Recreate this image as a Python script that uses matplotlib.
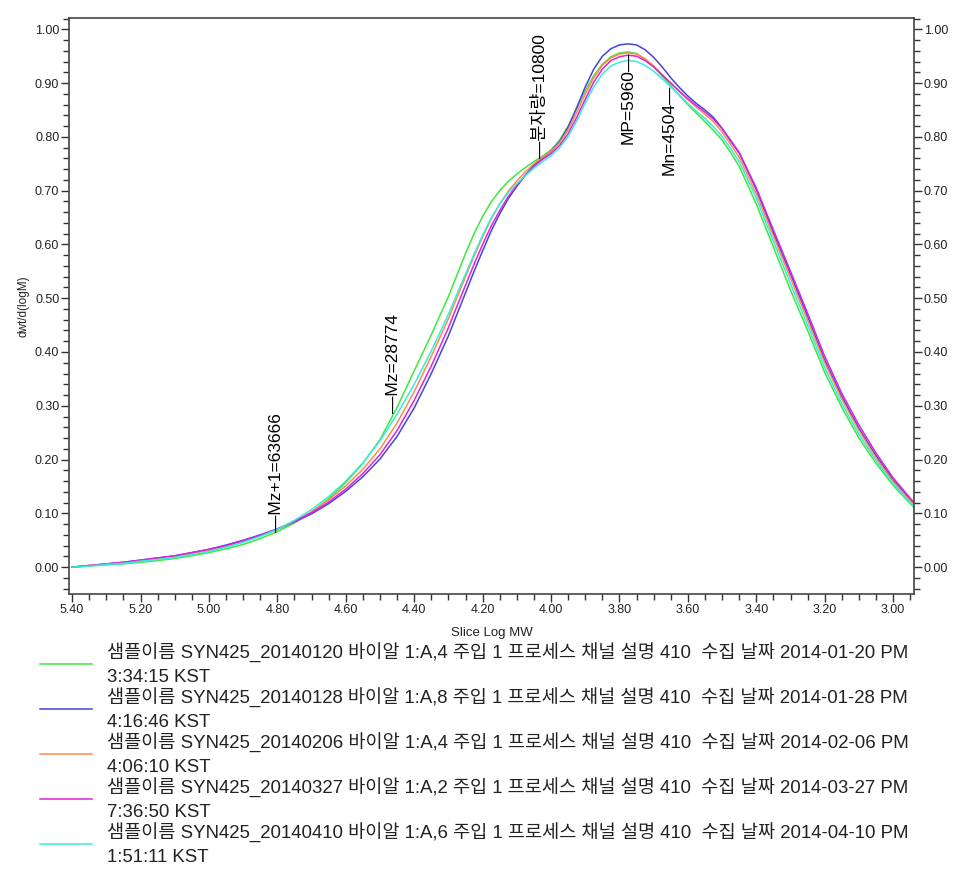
import numpy as np
import matplotlib
matplotlib.use("Agg")
import matplotlib.pyplot as plt
from matplotlib.ticker import MultipleLocator, FormatStrFormatter
from matplotlib.font_manager import FontProperties

plt.rcParams['font.family'] = ['Liberation Sans', 'Noto Sans CJK KR', 'DejaVu Sans']

# slice log MW (x axis, reversed); finer steps around the main peak
log_mw = [5.40, 5.35, 5.30, 5.25, 5.20, 5.15, 5.10, 5.05, 5.00, 4.95,
          4.90, 4.85, 4.80, 4.75, 4.70, 4.65, 4.60, 4.55, 4.50, 4.45,
          4.40, 4.35,
          4.300, 4.275, 4.250, 4.225, 4.200, 4.175, 4.150, 4.125, 4.100, 4.075,
          4.050, 4.025, 4.000, 3.975, 3.950, 3.925, 3.900, 3.875, 3.850, 3.825,
          3.800, 3.775, 3.750, 3.725, 3.700, 3.675, 3.650, 3.625, 3.600, 3.575,
          3.550, 3.525, 3.500, 3.475, 3.450,
          3.40, 3.35, 3.30, 3.25, 3.20, 3.15, 3.10, 3.05, 3.00, 2.95, 2.94]

# dwt/d(logM) per sample
s0120 = [0.000, 0.002, 0.004, 0.006, 0.009, 0.012, 0.016, 0.021, 0.027, 0.034,
         0.042, 0.053, 0.066, 0.082, 0.102, 0.127, 0.157, 0.193, 0.237, 0.297,
         0.365, 0.432,
         0.503, 0.543, 0.583, 0.620, 0.652, 0.679, 0.700, 0.717, 0.731, 0.743,
         0.754, 0.764, 0.776, 0.794, 0.820, 0.853, 0.886, 0.914, 0.935, 0.949,
         0.956, 0.958, 0.955, 0.945, 0.930, 0.913, 0.895, 0.877, 0.860, 0.844,
         0.828, 0.812, 0.794, 0.771, 0.745,
         0.675, 0.595, 0.515, 0.440, 0.362, 0.297, 0.240, 0.193, 0.152, 0.118, 0.112]
s0128 = [0.000, 0.003, 0.006, 0.009, 0.013, 0.017, 0.021, 0.027, 0.033, 0.041,
         0.050, 0.060, 0.071, 0.084, 0.099, 0.118, 0.141, 0.168, 0.201, 0.243,
         0.296, 0.360,
         0.430, 0.470, 0.510, 0.550, 0.588, 0.625, 0.657, 0.685, 0.708, 0.729,
         0.747, 0.761, 0.773, 0.791, 0.818, 0.854, 0.893, 0.926, 0.950, 0.964,
         0.971, 0.973, 0.971, 0.962, 0.948, 0.930, 0.910, 0.892, 0.876, 0.862,
         0.850, 0.836, 0.816, 0.792, 0.770,
         0.702, 0.622, 0.545, 0.466, 0.385, 0.317, 0.258, 0.207, 0.162, 0.126, 0.119]
s0206 = [0.000, 0.003, 0.005, 0.008, 0.012, 0.016, 0.020, 0.025, 0.031, 0.039,
         0.048, 0.058, 0.070, 0.085, 0.103, 0.125, 0.151, 0.182, 0.220, 0.268,
         0.326, 0.392,
         0.462, 0.501, 0.540, 0.578, 0.614, 0.647, 0.675, 0.699, 0.718, 0.735,
         0.750, 0.762, 0.773, 0.789, 0.813, 0.845, 0.880, 0.910, 0.933, 0.947,
         0.954, 0.956, 0.954, 0.945, 0.932, 0.916, 0.900, 0.884, 0.869, 0.855,
         0.842, 0.828, 0.809, 0.786, 0.762,
         0.694, 0.615, 0.537, 0.459, 0.380, 0.312, 0.254, 0.203, 0.159, 0.123, 0.117]
s0327 = [0.000, 0.003, 0.006, 0.009, 0.013, 0.017, 0.021, 0.027, 0.033, 0.040,
         0.049, 0.059, 0.071, 0.085, 0.101, 0.121, 0.145, 0.174, 0.209, 0.254,
         0.310, 0.374,
         0.445, 0.485, 0.524, 0.563, 0.600, 0.634, 0.663, 0.689, 0.710, 0.729,
         0.745, 0.758, 0.769, 0.784, 0.806, 0.836, 0.870, 0.902, 0.926, 0.942,
         0.949, 0.952, 0.950, 0.942, 0.930, 0.915, 0.900, 0.885, 0.871, 0.858,
         0.846, 0.833, 0.815, 0.794, 0.771,
         0.705, 0.627, 0.550, 0.472, 0.392, 0.323, 0.264, 0.212, 0.166, 0.128, 0.121]
s0410 = [0.000, 0.002, 0.005, 0.007, 0.011, 0.014, 0.018, 0.023, 0.029, 0.037,
         0.046, 0.057, 0.070, 0.087, 0.107, 0.131, 0.160, 0.194, 0.235, 0.284,
         0.340, 0.402,
         0.470, 0.508, 0.545, 0.582, 0.617, 0.649, 0.675, 0.696, 0.713, 0.728,
         0.742, 0.754, 0.765, 0.780, 0.801, 0.830, 0.863, 0.893, 0.917, 0.932,
         0.939, 0.942, 0.940, 0.933, 0.922, 0.908, 0.893, 0.878, 0.862, 0.848,
         0.834, 0.819, 0.801, 0.778, 0.754,
         0.686, 0.606, 0.527, 0.450, 0.371, 0.304, 0.247, 0.198, 0.155, 0.120, 0.114]

labels = [
    "샘플이름 SYN425_20140120 바이알 1:A,4 주입 1 프로세스 채널 설명 410  수집 날짜 2014-01-20 PM\n3:34:15 KST",
    "샘플이름 SYN425_20140128 바이알 1:A,8 주입 1 프로세스 채널 설명 410  수집 날짜 2014-01-28 PM\n4:16:46 KST",
    "샘플이름 SYN425_20140206 바이알 1:A,4 주입 1 프로세스 채널 설명 410  수집 날짜 2014-02-06 PM\n4:06:10 KST",
    "샘플이름 SYN425_20140327 바이알 1:A,2 주입 1 프로세스 채널 설명 410  수집 날짜 2014-03-27 PM\n7:36:50 KST",
    "샘플이름 SYN425_20140410 바이알 1:A,6 주입 1 프로세스 채널 설명 410  수집 날짜 2014-04-10 PM\n1:51:11 KST",
]
colors = ['#3ee83e', '#4444dd', '#ff8a4a', '#dd22dd', '#33eedd']

# peak markers (name, value, label above curve?)
markers = [("Mz+1", 63666, True), ("Mz", 28774, True), ("분자량", 10800, True),
           ("MP", 5960, False), ("Mn", 4504, False)]

fig = plt.figure(figsize=(9.75, 8.74), dpi=100)
ax = fig.add_axes([69/975, 1-594/874, (914-69)/975, (594-17.5)/874])

series = [s0120, s0128, s0206, s0327, s0410]
handles = []
for ys, c in zip(series, colors):
    h, = ax.plot(log_mw, ys, color=c, lw=1.1)
    handles.append(h)

ax.set_xlim(5.409, 2.939)
ax.set_ylim(-0.050, 1.022)

ax.xaxis.set_major_locator(MultipleLocator(0.2))
ax.xaxis.set_minor_locator(MultipleLocator(0.05))
ax.yaxis.set_major_locator(MultipleLocator(0.1))
ax.yaxis.set_minor_locator(MultipleLocator(0.02))
ax.xaxis.set_major_formatter(FormatStrFormatter('%.2f'))
ax.yaxis.set_major_formatter(FormatStrFormatter('%.2f'))

ax.tick_params(which='both', direction='out', right=True, labelright=True,
               top=False, color='#333333', labelcolor='#222222', labelsize=9, pad=1)
ax.tick_params(which='major', length=6, width=1)
ax.tick_params(which='minor', length=4.5, width=1)
for sp in ax.spines.values():
    sp.set_color('#444444')
    sp.set_linewidth(1.2)

ax.set_xlabel("Slice Log MW", fontsize=9.5, color='#222222', labelpad=8)
ax.set_ylabel("dwt/d(logM)", fontsize=8.5, color='#222222', labelpad=4)

# marker labels on the first sample curve
x_asc = log_mw[::-1]
y_asc = s0120[::-1]
for name, val, above in markers:
    xm = np.log10(val)
    ym = np.interp(xm, x_asc, y_asc)
    if above:
        ax.text(xm, ym, "—" + name + "=" + str(val), rotation=90, ha='center',
                va='bottom', fontsize=12.5, color='black')
    else:
        ax.text(xm, ym, name + "=" + str(val) + "—", rotation=90, ha='center',
                va='top', fontsize=12.5, color='black')

fs = 13.4
em = fs * 100 / 72
leg = fig.legend(handles, labels, loc='upper left', bbox_to_anchor=(40/975, 1-643/874),
                 frameon=False, prop=FontProperties(family=['Liberation Sans', 'Noto Sans CJK KR'], size=fs),
                 handlelength=52/em, handletextpad=15/em, borderpad=0, borderaxespad=0,
                 labelspacing=0.1)
for t in leg.get_texts():
    t.set_color('#222222')
    t.set_linespacing(1.46)

fig.savefig('out.png', dpi=100)
